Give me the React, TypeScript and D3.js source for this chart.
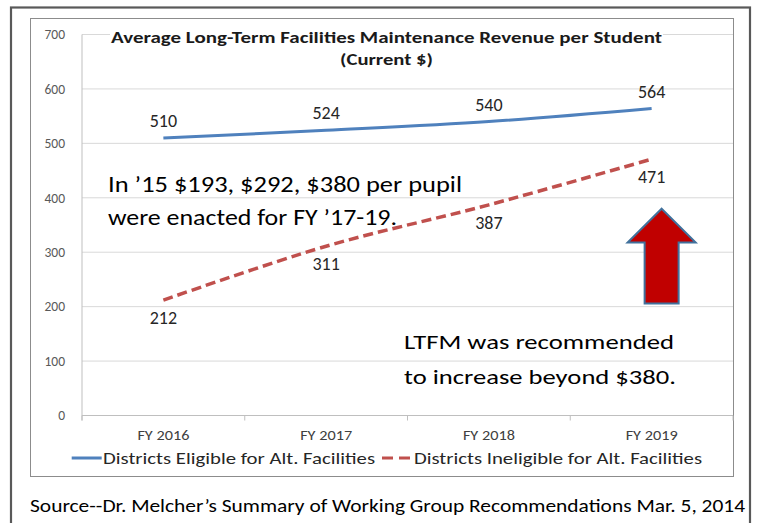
import React from "react";
import * as d3 from "d3";

const categories = ["FY 2016", "FY 2017", "FY 2018", "FY 2019"];
const eligible = [510, 524, 540, 564];
const ineligible = [212, 311, 387, 471];
const yTicks = [0, 100, 200, 300, 400, 500, 600, 700];
const seriesNames = ["Districts Eligible for Alt. Facilities", "Districts Ineligible for Alt. Facilities"];
const titleLines = ["Average Long-Term Facilities Maintenance Revenue per Student", "(Current $)"];
const note1 = ["In \u201915 $193, $292, $380 per pupil", "were enacted for FY \u201917-19."];
const note2 = ["LTFM was recommended", "to increase beyond $380."];
const sourceText = "Source--Dr. Melcher\u2019s Summary of Working Group Recommendations Mar. 5, 2014";
// arrow annotation values (in $): tip, head base, shaft base
const arrowVals = [380, 318, 206];

const W = 757, H = 523;
const FONT = "Carlito, Calibri, Lato, sans-serif";

export default function App() {
  const x = d3.scaleBand<string>().domain(categories).range([82, 733]);
  const y = d3.scaleLinear().domain([0, 700]).range([415.5, 34.5]);
  const cx = (c: string) => (x(c) as number) + x.bandwidth() / 2;
  const line = d3
    .line<number>()
    .x((_, i) => cx(categories[i]))
    .y((d) => y(d))
    .curve(d3.curveCatmullRom.alpha(0.5));

  const ax = cx(categories[3]) + 10;
  const arrowPts: [number, number][] = [
    [ax, y(arrowVals[0])],
    [ax + 34, y(arrowVals[1])],
    [ax + 17, y(arrowVals[1])],
    [ax + 17, y(arrowVals[2])],
    [ax - 17, y(arrowVals[2])],
    [ax - 17, y(arrowVals[1])],
    [ax - 34, y(arrowVals[1])],
  ];

  const note1Len = [354, 289];
  const note2Len = [270, 272];
  const legendLen = [272, 288];

  return (
    <svg width={W} height={H} style={{ position: "absolute", left: 0, top: 0, background: "#fff" }} fontFamily={FONT}>
      <rect x={0} y={0} width={W} height={H} fill="#fff" />
      {/* outer frame */}
      <rect x={11} y={7.5} width={739} height={530} fill="none" stroke="#595959" strokeWidth={2.2} />
      {/* inner chart frame */}
      <rect x={30.5} y={18.5} width={703} height={458} fill="none" stroke="#8c8c8c" strokeWidth={1} />

      {/* gridlines */}
      {yTicks.map((t) => (
        <line key={t} x1={82} x2={733} y1={y(t)} y2={y(t)} stroke={t === 0 ? "#bfbfbf" : "#d9d9d9"} strokeWidth={1} />
      ))}
      <line x1={82} x2={82} y1={y(700)} y2={y(0) + 5} stroke="#bfbfbf" />
      {[...categories.map((c) => x(c) as number), 733].map((t, i) => (
        <line key={i} x1={t} x2={t} y1={y(0)} y2={y(0) + 5} stroke="#bfbfbf" />
      ))}
      {yTicks.map((t) => (
        <text key={t} x={65} y={y(t)} dy="0.35em" textAnchor="end" fontSize={13.5} fill="#595959">
          {t}
        </text>
      ))}
      {categories.map((c) => (
        <text key={c} x={cx(c)} y={439.5} textAnchor="middle" fontSize={14} fill="#404040" textLength={52} lengthAdjust="spacingAndGlyphs">
          {c}
        </text>
      ))}

      {/* title */}
      <rect x={110} y={28} width={553} height={18} fill="#fff" />
      <text x={386.5} y={42.7} textAnchor="middle" fontSize={15.5} fontWeight="bold" fill="#1a1a1a" textLength={551} lengthAdjust="spacingAndGlyphs">
        {titleLines[0]}
      </text>
      <text x={386.5} y={65} textAnchor="middle" fontSize={15.5} fontWeight="bold" fill="#1a1a1a" textLength={93} lengthAdjust="spacingAndGlyphs">
        {titleLines[1]}
      </text>

      {/* series */}
      <path d={line(eligible) as string} fill="none" stroke="#4F81BD" strokeWidth={3} />
      <path d={line(ineligible) as string} fill="none" stroke="#C0504D" strokeWidth={3.5} strokeDasharray="10,5" />

      {eligible.map((v, i) => (
        <text key={"e" + i} x={cx(categories[i])} y={y(v) - 11} textAnchor="middle" fontSize={18} fill="#262626">
          {v}
        </text>
      ))}
      {ineligible.map((v, i) => (
        <text key={"i" + i} x={cx(categories[i])} y={y(v) + 24} textAnchor="middle" fontSize={18} fill="#262626">
          {v}
        </text>
      ))}

      {/* annotations */}
      {note1.map((s, i) => (
        <text key={s} x={108} y={191.7 + i * 33.3} fontSize={22} fill="#000" textLength={note1Len[i]} lengthAdjust="spacingAndGlyphs">
          {s}
        </text>
      ))}
      {note2.map((s, i) => (
        <text key={s} x={404} y={349.3 + i * 35} fontSize={21} fill="#000" textLength={note2Len[i]} lengthAdjust="spacingAndGlyphs">
          {s}
        </text>
      ))}
      <polygon points={arrowPts.map((p) => p.join(",")).join(" ")} fill="#C00000" stroke="#41719C" strokeWidth={2} strokeLinejoin="miter" />

      {/* legend */}
      <line x1={71.7} x2={101.7} y1={458} y2={458} stroke="#4F81BD" strokeWidth={3} />
      <text x={103} y={464} fontSize={16} fill="#262626" textLength={legendLen[0]} lengthAdjust="spacingAndGlyphs">
        {seriesNames[0]}
      </text>
      <line x1={382} x2={410} y1={458} y2={458} stroke="#C0504D" strokeWidth={3} strokeDasharray="11,6" />
      <text x={414} y={464} fontSize={16} fill="#262626" textLength={legendLen[1]} lengthAdjust="spacingAndGlyphs">
        {seriesNames[1]}
      </text>

      {/* source */}
      <text x={30} y={511.5} fontSize={19} fill="#000" textLength={715} lengthAdjust="spacingAndGlyphs">
        {sourceText}
      </text>
    </svg>
  );
}
